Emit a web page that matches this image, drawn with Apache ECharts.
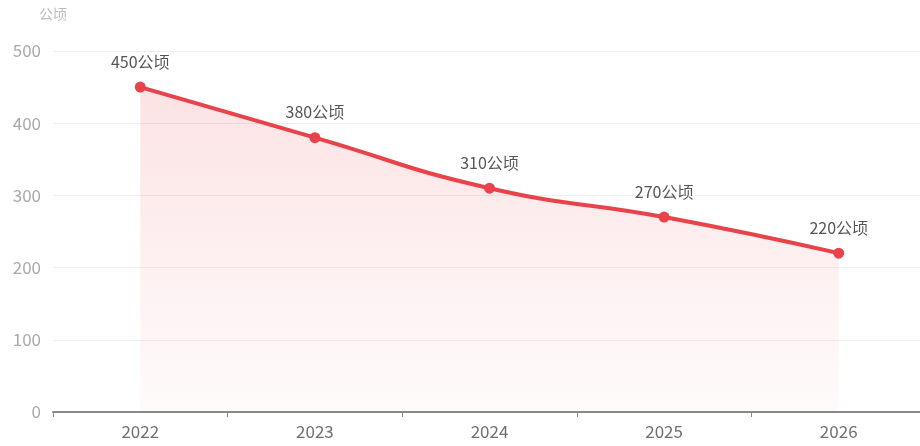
<!DOCTYPE html>
<html>
<head>
<meta charset="utf-8">
<script src="https://cdn.jsdelivr.net/npm/echarts@6/dist/echarts.min.js"></script>
<style>
html,body{margin:0;padding:0;background:#fff;}
#c{width:920px;height:446px;}
</style>
</head>
<body>
<div id="c"></div>
<script>
var categories = ['2022', '2023', '2024', '2025', '2026'];
var values = [450, 380, 310, 270, 220];
var unit = '公顷';
var yTicks = { min: 0, max: 500, interval: 100 };

var chart = echarts.init(document.getElementById('c'), null, { renderer: 'canvas' });
chart.setOption({
  backgroundColor: '#fff',
  animation: false,
  grid: { left: 53, width: 873, top: 51, bottom: 34, containLabel: false, outerBoundsMode: 'none' },
  xAxis: {
    type: 'category',
    data: categories,
    boundaryGap: true,
    axisLine: { lineStyle: { color: '#888', width: 2 } },
    axisTick: { show: true, length: 5, lineStyle: { color: '#888' } },
    axisLabel: { color: '#707070', fontSize: 17, margin: 11, fontFamily: 'Noto Sans CJK SC' }
  },
  yAxis: {
    type: 'value',
    min: yTicks.min, max: yTicks.max, interval: yTicks.interval,
    name: unit,
    nameGap: 30,
    nameTextStyle: { color: '#bbb', fontSize: 14, align: 'center', fontFamily: 'Noto Sans CJK SC' },
    axisLine: { show: false },
    axisTick: { show: false },
    axisLabel: { color: '#aaa', fontSize: 17, margin: 12, fontFamily: 'Noto Sans CJK SC' },
    splitLine: { lineStyle: { color: '#eee' } }
  },
  series: [{
    type: 'line',
    data: values,
    smooth: true,
    symbol: 'circle',
    symbolSize: 11,
    lineStyle: { color: '#e8434a', width: 4 },
    itemStyle: { color: '#e8434a' },
    areaStyle: {
      color: new echarts.graphic.LinearGradient(0, 0, 0, 1, [
        { offset: 0, color: 'rgba(240,110,115,0.28)' },
        { offset: 1, color: 'rgba(240,110,115,0.04)' }
      ])
    },
    label: {
      show: true,
      position: 'top',
      distance: 12,
      color: '#555',
      fontSize: 16,
      fontFamily: 'Noto Sans CJK SC',
      formatter: function (p) { return p.value + unit; }
    }
  }]
});
</script>
</body>
</html>
